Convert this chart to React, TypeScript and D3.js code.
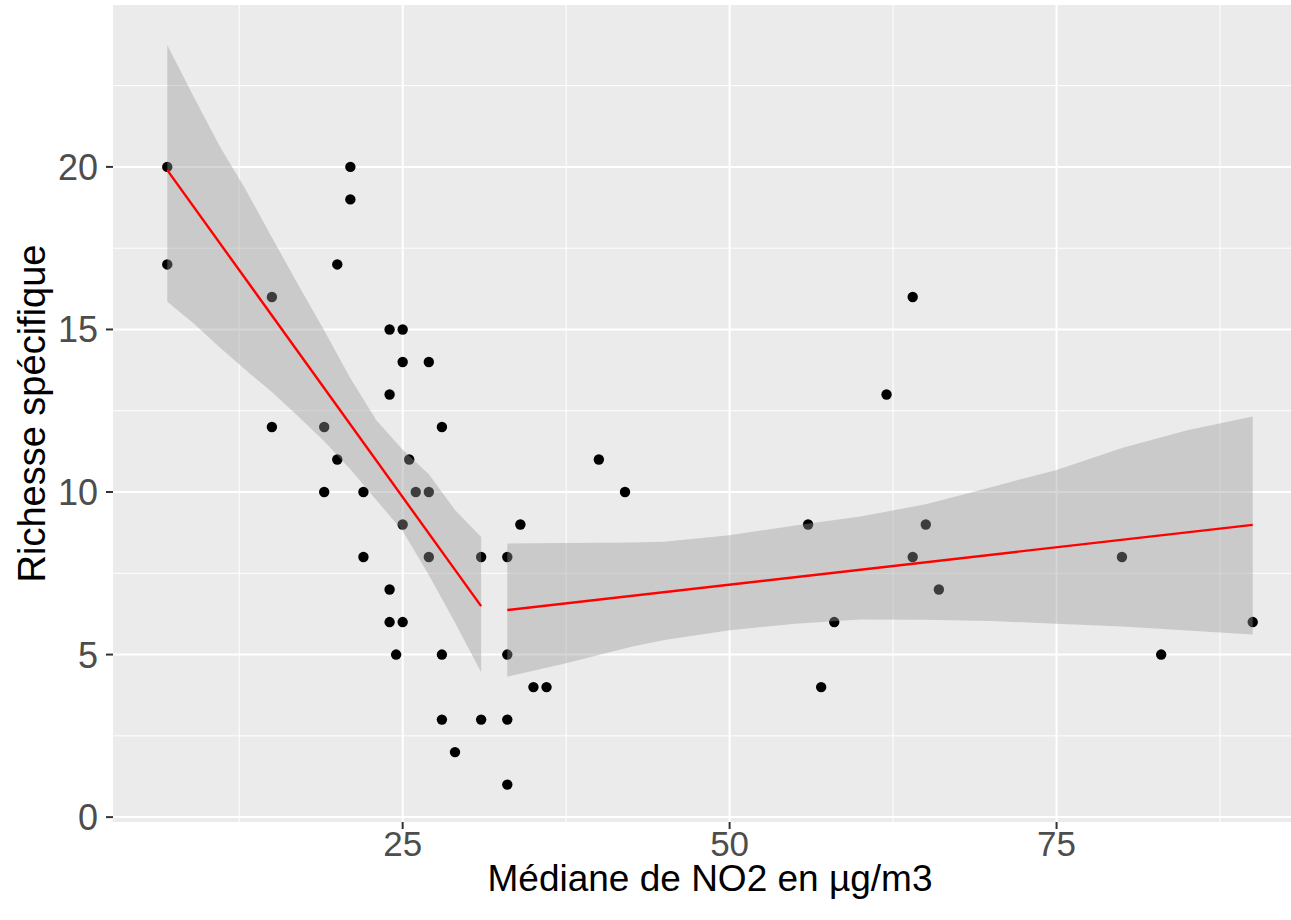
import * as d3 from "d3";

// scatter: NO2 median vs species richness
const pointX = [7, 7, 15, 15, 19, 19, 20, 20, 21, 21, 22, 22, 24, 24, 24, 24, 24.5, 25, 25, 25, 25, 25.5, 26, 27, 27, 27, 28, 28, 28, 29, 31, 31, 33, 33, 33, 33, 34, 35, 36, 40, 42, 56, 57, 58, 62, 64, 64, 65, 66, 80, 83, 90];
const pointY = [20, 17, 16, 12, 12, 10, 17, 11, 20, 19, 10, 8, 15, 13, 7, 6, 5, 15, 14, 9, 6, 11, 10, 14, 10, 8, 12, 5, 3, 2, 8, 3, 8, 5, 3, 1, 9, 4, 4, 11, 10, 9, 4, 6, 13, 16, 8, 9, 7, 8, 5, 6];

// smooth 1 (low NO2)
const fit1X = [7, 31];
const fit1Y = [19.9, 6.49];
const band1X = [7, 9, 11, 13, 15, 17, 19, 21, 23, 25, 27, 29, 31];
const band1Hi = [23.75, 22.17, 20.64, 19.3, 17.83, 16.38, 14.97, 13.5, 12.2, 11.3, 10.55, 9.45, 8.62];
const band1Lo = [15.85, 15.19, 14.45, 13.75, 13.08, 12.33, 11.56, 10.7, 9.75, 8.8, 7.45, 5.99, 4.46];

// smooth 2 (high NO2)
const fit2X = [33, 90];
const fit2Y = [6.37, 8.99];
const band2X = [33, 37.5, 42.5, 45, 50, 55, 60, 65, 70, 75, 80, 85, 90];
const band2Hi = [8.42, 8.43, 8.45, 8.47, 8.67, 8.97, 9.25, 9.62, 10.15, 10.68, 11.35, 11.9, 12.32];
const band2Lo = [4.32, 4.73, 5.24, 5.45, 5.75, 5.95, 6.08, 6.07, 6.03, 5.95, 5.86, 5.74, 5.62];

const xMajor = [25, 50, 75];
const xMinor = [12.5, 37.5, 62.5, 87.5];
const yMajor = [0, 5, 10, 15, 20];
const yMinor = [2.5, 7.5, 12.5, 17.5, 22.5];

const W = 1291, H = 920;
const P = { left: 113, right: 1307, top: 5, bottom: 822 };
const FONT = "'Liberation Sans', Arial, Helvetica, sans-serif";

export default function App() {
  const x = d3.scaleLinear().domain([2.85, 94.15]).range([P.left, P.right]);
  const y = d3.scaleLinear().domain([-0.15, 24.98]).range([P.bottom, P.top]);

  const band = (xs: number[], lo: number[], hi: number[]) =>
    d3.area<number>().x((d) => x(d)).y0((_d, i) => y(lo[i])).y1((_d, i) => y(hi[i]))(xs) ?? "";
  const fit = (xs: number[], ys: number[]) =>
    d3.line<number>().x((d) => x(d)).y((_d, i) => y(ys[i]))(xs) ?? "";

  return (
    <svg width={W} height={H} style={{ position: "absolute", left: 0, top: 0, background: "#fff" }} fontFamily={FONT}>
      <defs>
        <clipPath id="panel">
          <rect x={P.left} y={P.top} width={P.right - P.left} height={P.bottom - P.top} />
        </clipPath>
      </defs>
      <rect x={P.left} y={P.top} width={P.right - P.left} height={P.bottom - P.top} fill="#EBEBEB" />
      <g clipPath="url(#panel)">
        {xMinor.map((t) => (
          <line key={"xm" + t} x1={x(t)} x2={x(t)} y1={P.top} y2={P.bottom} stroke="#fff" strokeWidth={1} />
        ))}
        {yMinor.map((t) => (
          <line key={"ym" + t} x1={P.left} x2={P.right} y1={y(t)} y2={y(t)} stroke="#fff" strokeWidth={1} />
        ))}
        {xMajor.map((t) => (
          <line key={"xM" + t} x1={x(t)} x2={x(t)} y1={P.top} y2={P.bottom} stroke="#fff" strokeWidth={2} />
        ))}
        {yMajor.map((t) => (
          <line key={"yM" + t} x1={P.left} x2={P.right} y1={y(t)} y2={y(t)} stroke="#fff" strokeWidth={2} />
        ))}
        {pointX.map((px, i) => (
          <circle key={"p" + i} cx={x(px)} cy={y(pointY[i])} r={5.2} fill="#000" />
        ))}
        <path d={band(band1X, band1Lo, band1Hi)} fill="#999999" fillOpacity={0.4} />
        <path d={band(band2X, band2Lo, band2Hi)} fill="#999999" fillOpacity={0.4} />
        <path d={fit(fit1X, fit1Y)} fill="none" stroke="#FF0000" strokeWidth={2.4} />
        <path d={fit(fit2X, fit2Y)} fill="none" stroke="#FF0000" strokeWidth={2.4} />
      </g>

      {/* y axis */}
      {yMajor.map((t) => (
        <g key={"yt" + t}>
          <line x1={P.left - 7} x2={P.left} y1={y(t)} y2={y(t)} stroke="#333" strokeWidth={2} />
          <text x={P.left - 15} y={y(t)} dy="0.36em" textAnchor="end" fontSize={36} fill="#4D4D4D">{t}</text>
        </g>
      ))}
      {/* x axis */}
      {xMajor.map((t) => (
        <g key={"xt" + t}>
          <line x1={x(t)} x2={x(t)} y1={P.bottom} y2={P.bottom + 7} stroke="#333" strokeWidth={2} />
          <text x={x(t)} y={P.bottom + 34} textAnchor="middle" fontSize={35} fill="#4D4D4D">{t}</text>
        </g>
      ))}
      <text x={(P.left + P.right) / 2} y={891} textAnchor="middle" fontSize={37} fill="#000">Médiane de NO2 en µg/m3</text>
      <text transform={`translate(45,${(P.top + P.bottom) / 2}) rotate(-90)`} textAnchor="middle" fontSize={38} fill="#000">Richesse spécifique</text>
    </svg>
  );
}
